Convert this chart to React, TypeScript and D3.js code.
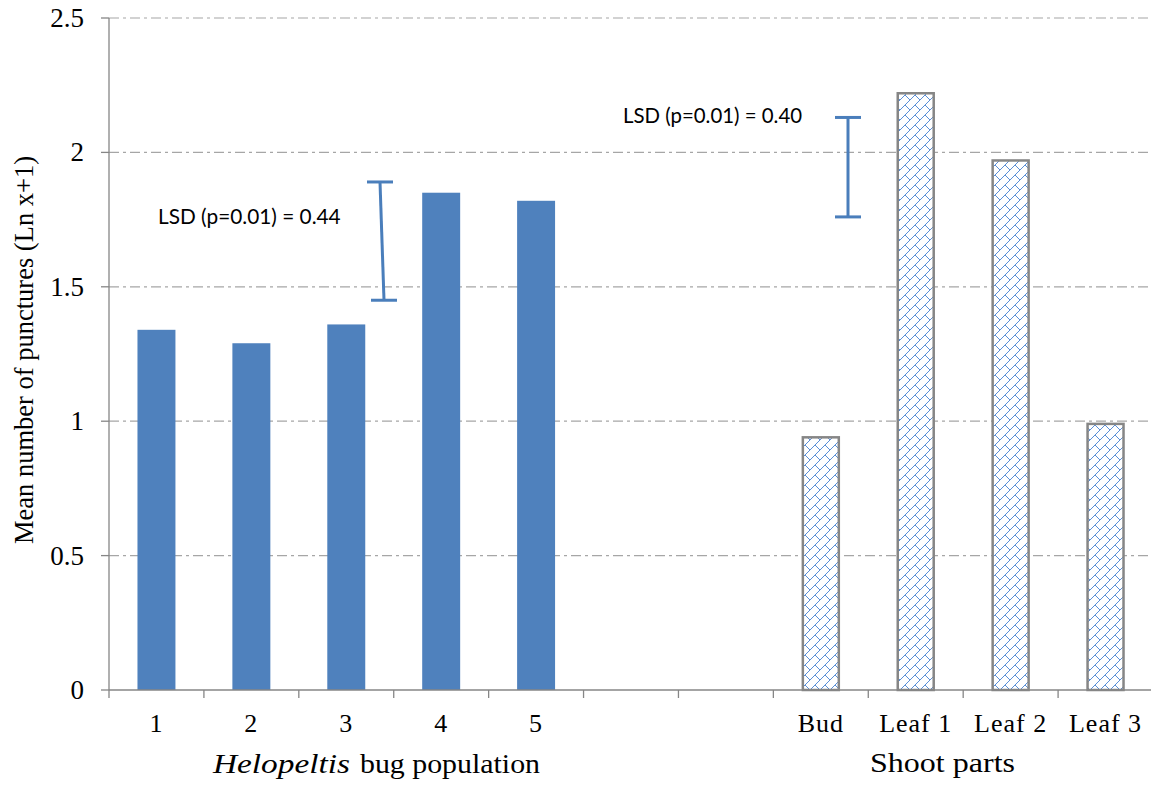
import { useEffect, useRef } from 'react';
import * as d3 from 'd3';

// categories along the x axis; the two blank slots are the gap between the groups
const categories = ['1', '2', '3', '4', '5', 'gap1', 'gap2', 'Bud', 'Leaf 1', 'Leaf 2', 'Leaf 3'];
const populationCats = ['1', '2', '3', '4', '5'];
const populationValues = [1.34, 1.29, 1.36, 1.85, 1.82];
const shootCats = ['Bud', 'Leaf 1', 'Leaf 2', 'Leaf 3'];
const shootValues = [0.94, 2.22, 1.97, 0.99];
const yTicks = [0, 0.5, 1, 1.5, 2, 2.5];
// LSD bars: [top, bottom]
const lsdPopulation = [1.89, 1.45];
const lsdShoot = [2.13, 1.76];

const App = () => {
  const svgRef = useRef<SVGSVGElement | null>(null);

  useEffect(() => {
    if (!svgRef.current) return;
    const width = 1151;
    const height = 792;
    const svg = d3.select(svgRef.current).attr('width', width).attr('height', height);
    svg.selectAll('*').remove();

    const x = d3.scaleBand().domain(categories).range([109, 1153]).paddingInner(0.6).paddingOuter(0.3);
    const y = d3.scaleLinear().domain([0, 2.5]).range([690, 18]);
    const step = x.step();
    const x0 = 109;

    // hatch pattern (diagonal brick)
    const defs = svg.append('defs');
    const pat = defs.append('pattern')
      .attr('id', 'brick')
      .attr('patternUnits', 'userSpaceOnUse')
      .attr('width', 10)
      .attr('height', 10);
    pat.append('rect').attr('width', 10).attr('height', 10).attr('fill', '#fff');
    pat.append('path')
      .attr('d', 'M-1,11 L11,-1 M-1,1 L1,-1 M9,11 L11,9 M5,5 L10,10')
      .attr('stroke', '#5b8fd6')
      .attr('stroke-width', 1)
      .attr('fill', 'none');

    // gridlines
    svg.append('g')
      .selectAll('line')
      .data(yTicks.filter(d => d > 0))
      .enter()
      .append('line')
      .attr('x1', x0)
      .attr('x2', width)
      .attr('y1', d => y(d))
      .attr('y2', d => y(d))
      .attr('stroke', '#a6a6a6')
      .attr('stroke-width', 1.2)
      .attr('stroke-dasharray', '10,4,3,4');

    // solid bars
    svg.append('g')
      .selectAll('rect')
      .data(populationCats)
      .enter()
      .append('rect')
      .attr('x', d => x(d)!)
      .attr('y', (d, i) => y(populationValues[i]))
      .attr('width', x.bandwidth())
      .attr('height', (d, i) => y(0) - y(populationValues[i]))
      .attr('fill', '#4f81bd');

    // hatched bars
    svg.append('g')
      .selectAll('rect')
      .data(shootCats)
      .enter()
      .append('rect')
      .attr('x', d => x(d)! + 1)
      .attr('y', (d, i) => y(shootValues[i]))
      .attr('width', x.bandwidth() - 2)
      .attr('height', (d, i) => y(0) - y(shootValues[i]))
      .attr('fill', 'url(#brick)')
      .attr('stroke', '#868686')
      .attr('stroke-width', 2.5);

    // axes
    const axisColor = '#868686';
    svg.append('line')
      .attr('x1', x0).attr('x2', x0)
      .attr('y1', y(2.5)).attr('y2', y(0))
      .attr('stroke', axisColor).attr('stroke-width', 1.3);
    svg.append('line')
      .attr('x1', x0).attr('x2', width)
      .attr('y1', y(0)).attr('y2', y(0))
      .attr('stroke', axisColor).attr('stroke-width', 1.3);

    svg.append('g')
      .selectAll('line')
      .data(yTicks)
      .enter()
      .append('line')
      .attr('x1', x0 - 8).attr('x2', x0)
      .attr('y1', d => y(d)).attr('y2', d => y(d))
      .attr('stroke', axisColor).attr('stroke-width', 1.3);

    svg.append('g')
      .selectAll('line')
      .data(d3.range(categories.length + 1))
      .enter()
      .append('line')
      .attr('x1', k => x0 + k * step).attr('x2', k => x0 + k * step)
      .attr('y1', y(0)).attr('y2', y(0) + 8)
      .attr('stroke', axisColor).attr('stroke-width', 1.3);

    const serif = "'Liberation Serif', 'Times New Roman', serif";

    svg.append('g')
      .selectAll('text')
      .data(yTicks)
      .enter()
      .append('text')
      .attr('x', 84)
      .attr('y', d => y(d) + 9)
      .attr('text-anchor', 'end')
      .attr('font-family', serif)
      .attr('font-size', 27)
      .attr('fill', '#000')
      .text(d => String(d));

    svg.append('g')
      .selectAll('text')
      .data(categories.filter(c => !c.startsWith('gap')))
      .enter()
      .append('text')
      .attr('x', d => x(d)! + x.bandwidth() / 2)
      .attr('y', 732)
      .attr('text-anchor', 'middle')
      .attr('font-family', serif)
      .attr('font-size', 26)
      .attr('letter-spacing', 1)
      .attr('fill', '#000')
      .text(d => d);

    // axis titles
    svg.append('text')
      .attr('x', 213)
      .attr('y', 773)
      .attr('font-family', serif)
      .attr('font-size', 27)
      .attr('font-style', 'italic')
      .attr('textLength', 137)
      .attr('lengthAdjust', 'spacingAndGlyphs')
      .attr('fill', '#000')
      .text('Helopeltis');
    svg.append('text')
      .attr('x', 360)
      .attr('y', 773)
      .attr('font-family', serif)
      .attr('font-size', 27)
      .attr('textLength', 180)
      .attr('lengthAdjust', 'spacingAndGlyphs')
      .attr('fill', '#000')
      .text('bug population');

    svg.append('text')
      .attr('x', 870)
      .attr('y', 772)
      .attr('font-family', serif)
      .attr('font-size', 27)
      .attr('textLength', 145)
      .attr('lengthAdjust', 'spacingAndGlyphs')
      .attr('fill', '#000')
      .text('Shoot parts');

    svg.append('text')
      .attr('transform', `translate(33, 350) rotate(-90)`)
      .attr('text-anchor', 'middle')
      .attr('font-family', serif)
      .attr('font-size', 26.5)
      .attr('fill', '#000')
      .text('Mean number of punctures (Ln x+1)');

    // LSD bars
    const lsdColor = '#4a7ebb';
    const drawLsd = (xTop: number, xBot: number, vals: number[]) => {
      const g = svg.append('g').attr('stroke', lsdColor).attr('stroke-width', 3);
      g.append('line').attr('x1', xTop).attr('x2', xBot).attr('y1', y(vals[0])).attr('y2', y(vals[1]));
      g.append('line').attr('x1', xTop - 13).attr('x2', xTop + 13).attr('y1', y(vals[0])).attr('y2', y(vals[0]));
      g.append('line').attr('x1', xBot - 13).attr('x2', xBot + 13).attr('y1', y(vals[1])).attr('y2', y(vals[1]));
    };
    drawLsd(380, 384, lsdPopulation);
    drawLsd(848, 848, lsdShoot);

    const sans = "Lato, 'Open Sans', sans-serif";
    svg.append('text')
      .attr('x', 158).attr('y', 224)
      .attr('font-family', sans).attr('font-size', 20.8).attr('fill', '#000')
      .text('LSD (p=0.01) = 0.44');
    svg.append('text')
      .attr('x', 623).attr('y', 123)
      .attr('font-family', sans).attr('font-size', 20.4).attr('fill', '#000')
      .text('LSD (p=0.01) = 0.40');
  }, []);

  return (
    <svg ref={svgRef} style={{ position: 'absolute', left: 0, top: 0 }}></svg>
  );
};

export default App;
